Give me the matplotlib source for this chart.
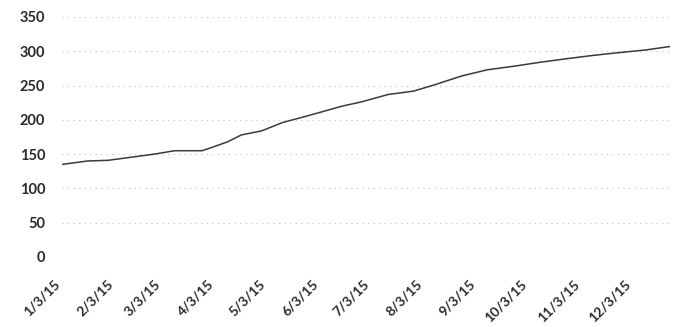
import matplotlib
matplotlib.use("Agg")
import matplotlib.pyplot as plt
import pandas as pd

# Data
dates = ["2015-01-03", "2015-01-18", "2015-01-30", "2015-02-11", "2015-02-26",
         "2015-03-10", "2015-03-26", "2015-04-01", "2015-04-10", "2015-04-18",
         "2015-04-30", "2015-05-12", "2015-05-27", "2015-06-16", "2015-06-27",
         "2015-07-13", "2015-07-28", "2015-08-09", "2015-08-25", "2015-09-09",
         "2015-09-24", "2015-10-10", "2015-10-25", "2015-11-10", "2015-11-25",
         "2015-12-11", "2015-12-25"]
values = [135, 140, 141, 145, 150,
          155, 155, 160, 168, 178,
          184, 196, 206, 220, 226,
          237, 242, 251, 264, 273,
          278, 284, 289, 294, 298,
          302, 307]
tick_dates = ["2015-%02d-03" % m for m in range(1, 13)]
tick_labels = ["%d/3/15" % m for m in range(1, 13)]
y_ticks = [0, 50, 100, 150, 200, 250, 300, 350]

plt.rcParams['font.family'] = ['Lato', 'DejaVu Sans']

fig = plt.figure(figsize=(6.74, 3.27), dpi=100)
ax = fig.add_axes([62 / 674, 1 - 257 / 327, (670 - 62) / 674, (257 - 17) / 327])

x = pd.to_datetime(dates)
ax.plot(x, values, color="#3a3a3a", lw=1.1)

ax.set_ylim(0, 350)
ax.set_yticks(y_ticks)
ax.set_xlim(pd.Timestamp("2015-01-03"), pd.Timestamp("2015-12-25"))
ax.set_xticks(pd.to_datetime(tick_dates))
ax.set_xticklabels(tick_labels, rotation=45, ha="right")

ax.grid(axis="y", linestyle=(0, (1, 4)), color="#c0c0c0", lw=0.8)
ax.set_axisbelow(True)
for s in ax.spines.values():
    s.set_visible(False)
ax.tick_params(axis="both", length=0, colors="#2a2a2a")
ax.tick_params(axis="y", pad=12, labelsize=10.5)
ax.tick_params(axis="x", pad=15, labelsize=10)
for lab in ax.get_xticklabels() + ax.get_yticklabels():
    lab.set_fontweight("bold")

fig.savefig("out.png", dpi=100)
